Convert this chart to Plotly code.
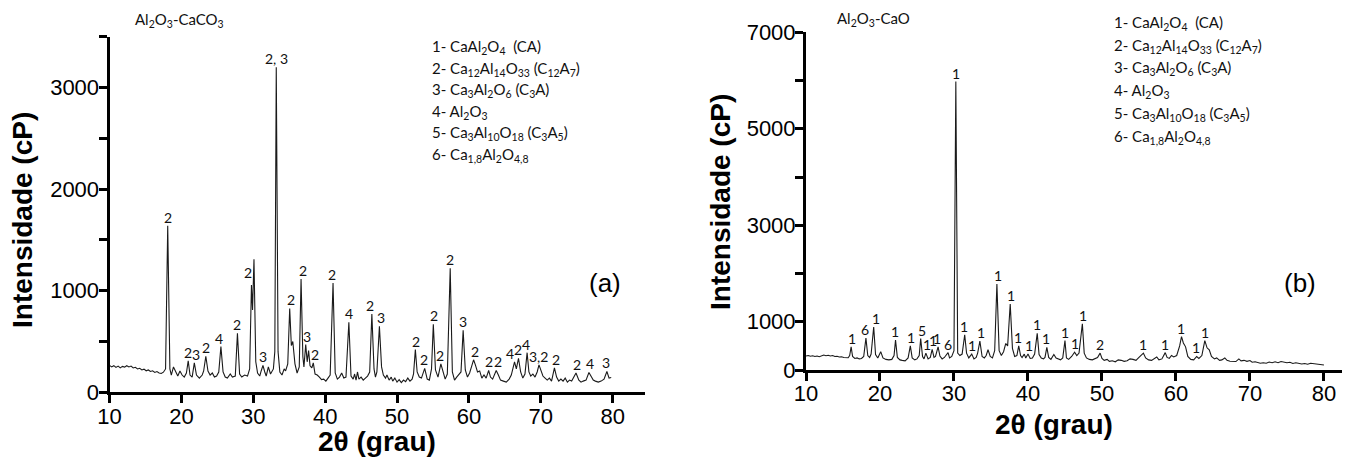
import plotly.graph_objects as go

W, H = 1347, 460

# ---------------------------------------------------------------
# (a) Al2O3-CaCO3 diffractogram: (2θ in degrees, counts)
# ---------------------------------------------------------------
a_profile = [
    (10.0, 265), (10.3, 250), (10.6, 262), (10.9, 245), (11.2, 258), (11.5, 240),
    (11.8, 255), (12.1, 248), (12.4, 262), (12.7, 250), (13.0, 258), (13.3, 240),
    (13.6, 246), (13.9, 230), (14.2, 236), (14.5, 220), (14.8, 228), (15.1, 212),
    (15.4, 220), (15.7, 205), (16.0, 212), (16.3, 196), (16.6, 204), (16.9, 190),
    (17.2, 185), (17.5, 198), (17.8, 230), (18.1, 1640), (18.4, 230), (18.6, 170),
    (18.9, 250), (19.2, 200), (19.5, 160), (19.8, 210), (20.1, 170), (20.4, 150),
    (20.7, 190), (20.95, 310), (21.2, 170), (21.5, 150), (21.8, 290), (22.1, 170),
    (22.5, 140), (22.9, 170), (23.1, 210), (23.4, 355), (23.7, 210), (24.0, 170),
    (24.3, 190), (24.6, 150), (24.9, 160), (25.2, 200), (25.5, 450), (25.8, 200),
    (26.1, 150), (26.4, 140), (26.8, 180), (27.1, 150), (27.5, 160), (27.8, 580),
    (28.1, 180), (28.4, 150), (28.8, 170), (29.2, 160), (29.5, 230), (29.75, 1055),
    (29.9, 810), (30.1, 1310), (30.35, 300), (30.6, 190), (30.9, 160), (31.1, 210),
    (31.35, 265), (31.6, 200), (31.8, 160), (32.1, 250), (32.4, 180), (32.8, 230),
    (33.0, 400), (33.2, 3200), (33.45, 400), (33.7, 200), (34.0, 170), (34.3, 230),
    (34.5, 210), (34.8, 280), (35.07, 825), (35.3, 460), (35.5, 500), (35.8, 280),
    (36.1, 190), (36.4, 250), (36.65, 1115), (36.9, 350), (37.05, 250), (37.3, 470),
    (37.5, 300), (37.7, 410), (37.9, 260), (38.15, 240), (38.35, 290), (38.6, 180),
    (38.9, 170), (39.2, 150), (39.5, 125), (39.8, 130), (40.1, 110), (40.4, 140),
    (40.7, 170), (41.1, 1075), (41.4, 190), (41.7, 130), (42.0, 150), (42.3, 190),
    (42.6, 140), (42.9, 150), (43.3, 690), (43.6, 160), (43.9, 130), (44.1, 180),
    (44.3, 120), (44.5, 200), (44.7, 130), (45.0, 150), (45.3, 120), (45.6, 140),
    (45.9, 160), (46.2, 200), (46.5, 770), (46.8, 230), (47.0, 150), (47.2, 200),
    (47.55, 650), (47.85, 250), (48.1, 170), (48.4, 140), (48.6, 170), (48.9, 120),
    (49.2, 150), (49.4, 110), (49.7, 140), (50.0, 100), (50.3, 125), (50.6, 95),
    (50.9, 120), (51.2, 105), (51.5, 140), (51.8, 110), (52.1, 130), (52.3, 180),
    (52.55, 420), (52.8, 200), (53.1, 150), (53.4, 140), (53.85, 235), (54.2, 130),
    (54.5, 120), (54.8, 230), (55.05, 670), (55.35, 220), (55.7, 150), (56.1, 280),
    (56.4, 200), (56.7, 130), (57.0, 180), (57.4, 1220), (57.7, 200), (58.0, 120),
    (58.3, 150), (58.6, 180), (58.9, 200), (59.2, 610), (59.5, 220), (59.8, 150),
    (60.1, 190), (60.4, 260), (60.65, 320), (60.9, 270), (61.2, 200), (61.5, 210),
    (61.8, 140), (62.1, 170), (62.4, 140), (62.75, 215), (63.0, 150), (63.3, 130),
    (63.8, 215), (64.1, 170), (64.4, 120), (64.8, 110), (65.2, 100), (65.6, 130),
    (65.9, 170), (66.35, 300), (66.6, 230), (66.9, 335), (67.2, 200), (67.5, 140),
    (67.8, 180), (68.1, 390), (68.35, 200), (68.6, 160), (68.9, 180), (69.2, 150),
    (69.5, 200), (69.75, 270), (70.0, 220), (70.3, 160), (70.6, 140), (70.9, 120),
    (71.2, 140), (71.5, 110), (71.9, 240), (72.2, 150), (72.5, 110), (72.8, 130),
    (73.1, 110), (73.4, 140), (73.7, 100), (74.0, 120), (74.3, 110), (74.9, 190),
    (75.3, 120), (75.6, 100), (75.9, 110), (76.3, 120), (76.7, 195), (77.0, 150),
    (77.3, 120), (77.6, 110), (78.0, 100), (78.4, 110), (78.8, 130), (79.2, 205),
    (79.5, 140), (79.8, 145),
]

# phase labels for (a): text centre 2θ, peak counts, phase number
a_label_2theta = [18.1, 20.95, 22.0, 23.4, 25.3, 27.8, 29.2, 31.4, 33.2, 35.3,
                  36.9, 37.5, 38.6, 41.0, 43.3, 46.3, 47.8, 52.6, 53.7, 55.2,
                  56.0, 57.4, 59.2, 60.8, 62.75, 64.0, 65.7, 66.8, 68.0, 69.7,
                  72.1, 75.1, 76.8, 79.05]
a_label_counts = [1640, 310, 290, 355, 450, 580, 1100, 265, 3200, 825,
                  1115, 470, 290, 1075, 690, 770, 650, 420, 235, 670,
                  280, 1220, 610, 320, 215, 215, 300, 335, 390, 270,
                  240, 190, 195, 205]
a_label_text = ["2", "2", "3", "2", "4", "2", "2", "3", "2, 3", "2",
                "2", "3", "2", "2", "4", "2", "3", "2", "2", "2",
                "2", "2", "3", "2", "2", "2", "4", "2", "4", "3,2",
                "2", "2", "4", "3"]

# ---------------------------------------------------------------
# (b) Al2O3-CaO diffractogram: (2θ in degrees, counts)
# ---------------------------------------------------------------
b_profile = [
    (10.0, 290), (10.3, 300), (10.6, 285), (10.9, 295), (11.2, 280), (11.5, 290),
    (11.8, 275), (12.1, 300), (12.4, 310), (12.7, 295), (13.0, 305), (13.3, 290),
    (13.6, 300), (13.9, 280), (14.2, 285), (14.5, 270), (14.8, 275), (15.1, 260),
    (15.4, 265), (15.7, 255), (15.9, 300), (16.1, 480), (16.3, 280), (16.6, 240),
    (16.9, 250), (17.2, 230), (17.5, 240), (17.8, 280), (18.1, 660), (18.35, 300),
    (18.6, 260), (18.8, 330), (19.15, 890), (19.4, 320), (19.7, 250), (20.1, 380),
    (20.4, 250), (20.8, 220), (21.2, 210), (21.6, 220), (21.9, 300), (22.1, 620),
    (22.35, 260), (22.7, 210), (23.0, 200), (23.4, 190), (23.8, 250), (24.1, 500),
    (24.35, 250), (24.7, 210), (25.0, 230), (25.3, 300), (25.5, 650), (25.75, 280),
    (25.95, 230), (26.2, 350), (26.5, 230), (26.8, 260), (27.05, 430), (27.3, 260),
    (27.5, 280), (27.85, 480), (28.1, 290), (28.4, 230), (28.7, 260), (29.0, 330),
    (29.2, 360), (29.4, 250), (29.7, 280), (30.0, 400), (30.25, 5980), (30.5, 350),
    (30.8, 300), (31.1, 330), (31.45, 730), (31.7, 350), (32.0, 250), (32.4, 330),
    (32.7, 230), (33.0, 260), (33.2, 350), (33.5, 600), (33.8, 280), (34.1, 250),
    (34.35, 300), (34.6, 420), (34.9, 280), (35.2, 250), (35.5, 400), (35.8, 1780),
    (36.1, 400), (36.4, 300), (36.7, 380), (37.0, 550), (37.25, 500), (37.6, 1370),
    (37.9, 450), (38.2, 280), (38.5, 300), (38.75, 500), (39.0, 300), (39.2, 260),
    (39.5, 330), (39.7, 250), (40.0, 330), (40.3, 240), (40.6, 250), (40.9, 330),
    (41.25, 760), (41.5, 320), (41.8, 250), (42.1, 230), (42.3, 260), (42.55, 470),
    (42.8, 260), (43.1, 220), (43.5, 320), (43.8, 250), (44.1, 230), (44.4, 210),
    (44.7, 250), (45.0, 610), (45.2, 250), (45.5, 220), (45.9, 280), (46.3, 370),
    (46.6, 300), (46.9, 350), (47.35, 960), (47.6, 350), (47.9, 250), (48.3, 220),
    (48.7, 210), (49.1, 230), (49.4, 260), (49.75, 350), (50.0, 240), (50.3, 200),
    (50.7, 220), (51.0, 180), (51.4, 190), (51.8, 170), (52.2, 210), (52.6, 200),
    (53.0, 180), (53.4, 190), (53.8, 230), (54.2, 220), (54.6, 200), (55.0, 260),
    (55.6, 350), (55.9, 250), (56.3, 210), (56.7, 200), (57.0, 230), (57.4, 270),
    (57.7, 210), (58.1, 230), (58.55, 360), (58.8, 260), (59.1, 240), (59.4, 300),
    (59.7, 270), (60.1, 300), (60.5, 500), (60.75, 690), (61.0, 560), (61.3, 480),
    (61.6, 280), (62.0, 220), (62.4, 210), (62.8, 280), (63.1, 240), (63.5, 300),
    (63.9, 610), (64.2, 460), (64.5, 420), (64.8, 280), (65.2, 230), (65.5, 250),
    (65.9, 200), (66.2, 210), (66.6, 250), (66.9, 200), (67.3, 180), (67.7, 170),
    (68.1, 175), (68.5, 230), (68.8, 190), (69.2, 200), (69.6, 180), (70.0, 195),
    (70.3, 160), (70.7, 170), (71.0, 150), (71.4, 140), (71.8, 150), (72.2, 140),
    (72.6, 165), (73.0, 150), (73.4, 170), (73.8, 150), (74.2, 175), (74.6, 160),
    (75.0, 150), (75.4, 160), (75.8, 135), (76.2, 150), (76.6, 130), (77.0, 125),
    (77.4, 135), (77.8, 120), (78.2, 140), (78.6, 130), (79.0, 135), (79.4, 125),
    (79.8, 110), (80.0, 105),
]

b_label_2theta = [16.2, 18.0, 19.4, 22.0, 24.2, 25.7, 26.3, 27.1, 27.7, 29.2,
                  30.25, 31.4, 32.4, 33.7, 35.9, 37.7, 38.7, 40.2, 41.2, 42.5,
                  45.0, 46.35, 47.4, 49.8, 55.6, 58.5, 60.7, 62.7, 63.9]
b_label_counts = [480, 660, 890, 620, 500, 650, 350, 430, 480, 360,
                  5980, 730, 330, 600, 1780, 1370, 500, 330, 760, 470,
                  610, 370, 960, 350, 350, 360, 690, 280, 610]
b_label_text = ["1", "6", "1", "1", "1", "5", "1", "1", "1", "6",
                "1", "1", "1", "1", "1", "1", "1", "1", "1", "1",
                "1", "1", "1", "2", "1", "1", "1", "1", "1"]

# phase key shared by both panels
phase_key = [
    "1- CaAl<sub>2</sub>O<sub>4</sub>  (CA)",
    "2- Ca<sub>12</sub>Al<sub>14</sub>O<sub>33</sub> (C<sub>12</sub>A<sub>7</sub>)",
    "3- Ca<sub>3</sub>Al<sub>2</sub>O<sub>6</sub> (C<sub>3</sub>A)",
    "4- Al<sub>2</sub>O<sub>3</sub>",
    "5- Ca<sub>3</sub>Al<sub>10</sub>O<sub>18</sub> (C<sub>3</sub>A<sub>5</sub>)",
    "6- Ca<sub>1,8</sub>Al<sub>2</sub>O<sub>4,8</sub>",
]

a_ticks_y = [0, 500, 1000, 1500, 2000, 2500, 3000, 3500]
a_ticktext_y = ["0", "", "1000", "", "2000", "", "3000", ""]
b_ticks_y = [0, 1000, 2000, 3000, 4000, 5000, 6000, 7000]
b_ticktext_y = ["0", "1000", "", "3000", "", "5000", "", "7000"]
ticks_x = [10, 20, 30, 40, 50, 60, 70, 80]

a_2theta = [p[0] for p in a_profile]
a_counts = [p[1] for p in a_profile]
b_2theta = [p[0] for p in b_profile]
b_counts = [p[1] for p in b_profile]

SANS = "Liberation Sans, Arial, sans-serif"
LABEL_FONT = dict(family="Lato, Open Sans, sans-serif", size=14, color="#111")


def px(x):
    return x / W


def py(y):
    return (H - y) / H


fig = go.Figure()
fig.add_trace(go.Scatter(x=a_2theta, y=a_counts, mode="lines",
                         line=dict(color="#1a1a1a", width=1.1),
                         xaxis="x", yaxis="y", hoverinfo="skip"))
fig.add_trace(go.Scatter(x=b_2theta, y=b_counts, mode="lines",
                         line=dict(color="#1a1a1a", width=1.1),
                         xaxis="x2", yaxis="y2", hoverinfo="skip"))

fig.update_layout(
    template="simple_white",
    width=W, height=H,
    margin=dict(l=0, r=0, t=0, b=0, pad=0, autoexpand=False),
    paper_bgcolor="white", plot_bgcolor="white",
    showlegend=False,
    xaxis=dict(domain=[px(109.5), px(645)], range=[10, 84.5],
               tickvals=ticks_x, anchor="y"),
    yaxis=dict(domain=[py(392.3), py(36.7)], range=[0, 3500],
               tickvals=a_ticks_y, ticktext=a_ticktext_y, anchor="x"),
    xaxis2=dict(domain=[px(806), px(1341.7)], range=[10, 82.4],
                tickvals=ticks_x, anchor="y2"),
    yaxis2=dict(domain=[py(370), py(32.3)], range=[0, 7000],
                tickvals=b_ticks_y, ticktext=b_ticktext_y, anchor="x2"),
)

# black frame lines with outward ticks on both panels
frame = dict(showline=True, linecolor="#000000", linewidth=3,
             ticks="outside", ticklen=8, tickwidth=3, tickcolor="#000000",
             showgrid=False, zeroline=False, automargin=False,
             layer="above traces",
             tickfont=dict(family=SANS, size=22, color="black"))
fig.update_xaxes(**frame, ticklabelstandoff=-6)
fig.update_yaxes(**frame, ticklabelstandoff=-5)

ann = []

# phase-number labels above the reflections
for x, y, t in zip(a_label_2theta, a_label_counts, a_label_text):
    ann.append(dict(x=x, y=y, xref="x", yref="y", text=t, showarrow=False,
                    xanchor="center", yanchor="bottom", yshift=-2, font=LABEL_FONT))
for x, y, t in zip(b_label_2theta, b_label_counts, b_label_text):
    ann.append(dict(x=x, y=y, xref="x2", yref="y2", text=t, showarrow=False,
                    xanchor="center", yanchor="bottom", yshift=-2, font=LABEL_FONT))

# sample names
NAME_FONT = dict(family="Lato, Open Sans, sans-serif", size=15, color="#111")
ann.append(dict(x=px(133), y=py(8), xref="paper", yref="paper",
                text="Al<sub>2</sub>O<sub>3</sub>-CaCO<sub>3</sub>",
                showarrow=False, xanchor="left", yanchor="top", font=NAME_FONT))
ann.append(dict(x=px(835), y=py(7), xref="paper", yref="paper",
                text="Al<sub>2</sub>O<sub>3</sub>-CaO",
                showarrow=False, xanchor="left", yanchor="top", font=NAME_FONT))

# phase keys
KEY_FONT = dict(family="Lato, Open Sans, sans-serif", size=15, color="#111")
for i, line in enumerate(phase_key):
    ann.append(dict(x=px(430), y=py(35 + 21.5 * i), xref="paper", yref="paper",
                    text=line, showarrow=False, xanchor="left", yanchor="top",
                    font=KEY_FONT))
    ann.append(dict(x=px(1112), y=py(11 + 22.7 * i), xref="paper", yref="paper",
                    text=line, showarrow=False, xanchor="left", yanchor="top",
                    font=KEY_FONT))

# panel tags
for tag, x in (("(a)", 605), ("(b)", 1300)):
    ann.append(dict(x=px(x), y=py(283), xref="paper", yref="paper", text=tag,
                    showarrow=False, xanchor="center", yanchor="middle",
                    font=dict(family=SANS, size=26, color="black")))

# axis titles
TITLE_FONT = dict(family=SANS, size=28, color="black")
for x, y in ((22, 220), (720, 202)):
    ann.append(dict(x=px(x), y=py(y), xref="paper", yref="paper",
                    text="<b>Intensidade (cP)</b>", textangle=-90,
                    showarrow=False, xanchor="center", yanchor="middle",
                    font=TITLE_FONT))
for x, y in ((377, 441), (1054, 424)):
    ann.append(dict(x=px(x), y=py(y), xref="paper", yref="paper",
                    text="<b>2θ (grau)</b>", showarrow=False,
                    xanchor="center", yanchor="middle", font=TITLE_FONT))

fig.update_layout(annotations=ann)
fig.write_html("out.html")
